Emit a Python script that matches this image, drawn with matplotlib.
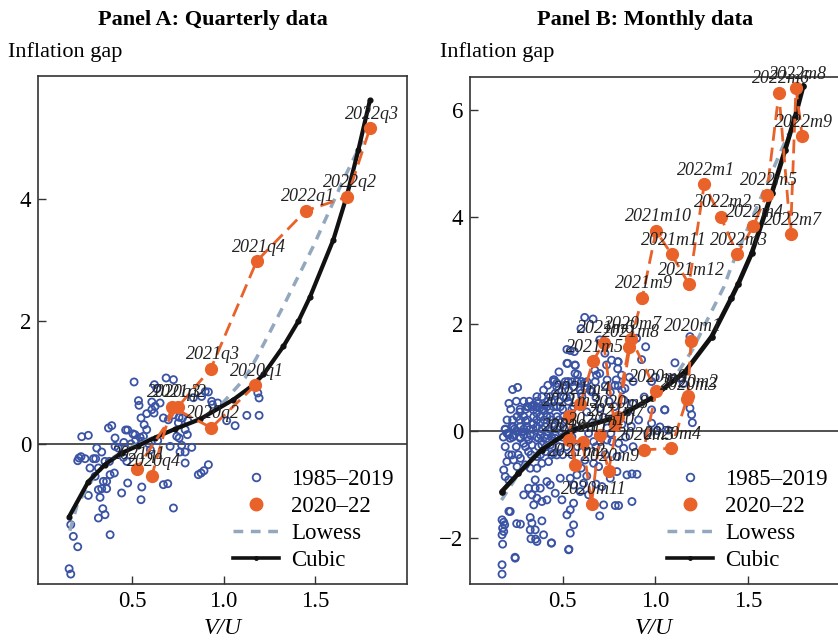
import matplotlib
matplotlib.use('Agg')
import matplotlib.pyplot as plt
from matplotlib.lines import Line2D

plt.rcParams['font.family'] = ['Liberation Serif', 'DejaVu Serif']

ORANGE = '#E8622A'
BLUE = '#3A53A4'
LOWESS = '#93A8BE'
BLACK = '#111111'

# ---------------- Panel A data (quarterly) ----------------
histA_x = [0.511, 0.622, 0.635, 0.686, 0.726, 0.535, 0.538, 0.608, 0.626, 0.653, 0.580, 0.549,
           0.371, 0.389, 0.465, 0.476, 0.225, 0.261, 0.407, 0.516, 0.544, 0.562, 0.580, 0.553,
           0.494, 0.307, 0.334, 0.407, 0.425, 0.744, 0.708, 0.210, 0.203, 0.221, 0.243, 0.289,
           0.301, 0.352, 0.376, 0.453, 0.471, 0.270, 0.316, 0.403, 0.380, 0.298, 0.343, 0.361,
           0.476, 0.553, 0.316, 0.334, 0.361, 0.443, 0.261, 0.325, 0.671, 0.695, 0.549, 0.726,
           0.340, 0.352, 0.316, 0.165, 0.179, 0.380, 0.203, 0.156, 0.165,
           0.917, 0.935, 0.968, 0.939, 1.017, 1.063, 1.127, 1.194, 1.187, 1.194, 0.757, 0.775,
           0.804, 0.790, 0.802, 0.757, 0.771, 0.826, 0.762, 0.790, 0.790, 0.862, 0.877, 0.893,
           0.917, 0.671, 0.698, 0.726, 0.753, 0.608, 0.620, 0.566, 0.835, 0.880, 0.900, 0.520,
           0.590, 0.505, 0.455, 0.600, 0.640]
histA_y = [1.007, 0.963, 0.898, 1.072, 1.045, 0.702, 0.626, 0.680, 0.610, 0.664, 0.490, 0.419,
           0.256, 0.294, 0.223, 0.223, 0.114, 0.136, 0.093, 0.147, 0.103, 0.120, 0.229, 0.038,
           -0.005, -0.071, -0.136, -0.044, -0.071, 0.120, -0.044, -0.234, -0.278, -0.212, -0.245, -0.245,
           -0.245, -0.289, -0.289, -0.223, -0.289, -0.397, -0.397, -0.479, -0.506, -0.533, -0.615, -0.615,
           -0.642, -0.707, -0.751, -0.735, -0.735, -0.805, -0.844, -0.876, -0.669, -0.653, -0.914, -1.050,
           -1.061, -1.159, -1.213, -1.322, -1.513, -1.486, -1.682, -2.041, -2.128,
           0.844, 0.691, 0.664, 0.637, 0.375, 0.294, 0.462, 0.462, 0.827, 0.746, 0.430, 0.419,
           0.375, 0.229, 0.147, 0.093, -0.027, -0.060, -0.136, -0.136, -0.315, -0.506, -0.479, -0.441,
           -0.343, 0.420, 0.390, 0.470, 0.340, 0.555, 0.500, 0.310, 0.750, 0.770, 0.850, 0.060,
           0.000, 0.160, 0.020, -0.100, 0.050]

qA_labels = ['2020q1', '2020q2', '2020q3', '2020q4', '2021q1', '2021q2', '2021q3',
             '2021q4', '2022q1', '2022q2', '2022q3']
qA_x = [1.172, 0.932, 0.717, 0.608, 0.526, 0.750, 0.930, 1.181, 1.449, 1.677, 1.800]
qA_y = [0.95, 0.26, 0.60, -0.52, -0.41, 0.60, 1.22, 2.98, 3.80, 4.03, 5.15]

lowA_x = [0.16, 0.20, 0.30, 0.40, 0.50, 0.60, 0.70, 0.80, 0.90, 1.00, 1.117, 1.18, 1.336, 1.49, 1.655, 1.76]
lowA_y = [-1.42, -1.00, -0.50, -0.22, -0.05, 0.08, 0.20, 0.32, 0.45, 0.68, 1.07, 1.40, 2.30, 3.22, 4.31, 4.95]

cubA_x = [0.156, 0.261, 0.352, 0.444, 0.535, 0.626, 0.735, 0.872, 1.054, 1.154, 1.218, 1.327,
          1.409, 1.473, 1.600, 1.673, 1.737, 1.800]
cubA_y = [-1.19, -0.62, -0.34, -0.15, -0.03, 0.10, 0.24, 0.40, 0.72, 0.94, 1.13, 1.59,
          2.00, 2.40, 3.33, 4.04, 4.80, 5.61]

# ---------------- Panel B data (monthly) ----------------
histB_x = [0.619, 0.664, 0.523, 0.541, 0.563, 0.523, 0.568, 0.230, 0.257, 0.210, 0.455, 0.469,
           0.451, 0.514, 0.550, 0.577, 0.631, 0.676,
           0.397, 0.478, 0.532, 0.595, 0.649,
           0.361, 0.388, 0.433, 0.505, 0.541, 0.604,
           0.308, 0.334, 0.361, 0.415, 0.451, 0.487, 0.559,
           0.254, 0.290, 0.344, 0.379, 0.415, 0.433, 0.469, 0.505,
           0.226, 0.272, 0.308, 0.361, 0.406, 0.451, 0.487,
           0.209, 0.235, 0.290, 0.325, 0.379, 0.415, 0.460,
           0.190, 0.200, 0.250, 0.280, 0.320, 0.340, 0.380, 0.300, 0.360, 0.400, 0.270, 0.320,
           0.420, 0.460, 0.470, 0.520, 0.560, 0.600, 0.620, 0.580, 0.480, 0.420, 0.234, 0.599, 0.700,
           0.899, 0.948, 0.926, 0.797, 0.797, 0.728, 0.674, 0.700, 0.789, 0.800, 0.820, 0.860, 0.880,
           0.730, 0.757, 0.980, 1.000, 1.090, 0.830, 0.880, 0.940, 0.980, 1.050, 0.910, 0.870, 0.980,
           0.960, 1.010, 0.740, 1.106, 1.187, 1.196, 1.200, 1.187, 1.133, 1.151, 1.052, 1.025, 1.070,
           0.217, 0.272, 0.316, 0.370, 0.415, 0.460, 0.290, 0.334, 0.388, 0.433, 0.226, 0.235, 0.199,
           0.272, 0.316, 0.361, 0.406, 0.451, 0.388, 0.424, 0.469, 0.361, 0.325, 0.254, 0.299, 0.182,
           0.190, 0.209,
           0.352, 0.415, 0.433, 0.316, 0.352, 0.379, 0.290, 0.334, 0.361, 0.388, 0.344, 0.415, 0.460,
           0.487, 0.541, 0.559, 0.577, 0.496, 0.541, 0.559, 0.595, 0.613,
           0.217, 0.523, 0.559, 0.541, 0.272, 0.325, 0.334, 0.325, 0.352, 0.388, 0.397, 0.329, 0.361,
           0.439, 0.532,
           0.173, 0.182, 0.187, 0.176, 0.182, 0.173, 0.176, 0.173, 0.173, 0.244,
           0.667, 0.703, 0.739, 0.766, 0.802, 0.829, 0.793, 0.667, 0.694, 0.793, 0.757, 0.847, 0.874,
           0.901, 0.712, 0.721, 0.784, 0.802, 0.874, 0.700,
           0.534, 0.440, 0.354, 0.252, 0.210, 0.243,
           0.315, 0.342, 0.369, 0.342, 0.376, 0.405,
           0.450, 0.468, 0.512, 0.530, 0.567, 0.527, 0.567, 0.602, 0.620, 0.656, 0.683, 0.737, 0.764,
           0.800, 0.818, 0.782, 0.836,
           0.25, 0.29, 0.36, 0.44, 0.48, 0.53,
           0.22, 0.27, 0.30, 0.39, 0.43, 0.50, 0.55,
           0.20, 0.23, 0.27, 0.31, 0.36, 0.40, 0.44, 0.48, 0.52,
           0.19, 0.24, 0.29, 0.34, 0.39, 0.43, 0.47, 0.51, 0.56,
           0.18, 0.23, 0.27, 0.31, 0.36, 0.40, 0.44, 0.50, 0.55,
           0.19, 0.25, 0.30, 0.37, 0.41, 0.48, 0.52, 0.58, 0.62,
           0.21, 0.26, 0.33, 0.38, 0.44, 0.50, 0.55,
           0.63, 0.66, 0.70, 0.72, 0.75, 0.68, 0.74, 0.78, 0.82, 0.85, 0.64, 0.68, 0.73, 0.76, 0.84,
           0.88, 0.62, 0.63, 0.68, 0.64, 0.60]
histB_y = [2.12, 2.09, 1.52, 1.50, 1.48, 1.26, 1.22, 0.77, 0.81, 0.51, 0.95, 0.89,
           0.916, 0.916, 0.916, 0.916, 0.916, 0.916,
           0.761, 0.761, 0.761, 0.761, 0.761,
           0.636, 0.636, 0.636, 0.636, 0.636, 0.636,
           0.449, 0.449, 0.449, 0.449, 0.449, 0.449, 0.449,
           0.262, 0.262, 0.262, 0.262, 0.262, 0.262, 0.262, 0.262,
           0.075, 0.075, 0.075, 0.075, 0.075, 0.075, 0.075,
           -0.080, -0.080, -0.080, -0.080, -0.080, -0.080, -0.080,
           0.02, -0.05, 0.00, -0.02, 0.02, 0.12, 0.15, 0.18, 0.33, 0.38, 0.35, 0.55,
           0.55, 0.70, 0.45, 0.62, 0.82, 0.70, 0.90, 1.05, 1.10, 0.85, 0.075, 1.91, 1.70,
           1.73, 1.57, 1.33, 1.29, 1.16, 1.45, 1.13, 1.07, 0.95, 0.84, 0.76, 1.00, 0.92,
           0.84, 0.72, 0.92, 1.00, 0.98, 0.57, 0.51, 0.63, 0.39, 0.39, 0.20, 0.08, 0.14,
           -0.04, 0.00, 0.95, 1.27, 0.42, 0.30, 0.15, 1.76, 0.98, 0.88, 0.39, 0.07, 0.01,
           -0.143, -0.143, -0.174, -0.143, -0.143, -0.143, -0.236, -0.267, -0.267, -0.267, -0.454, -0.548, -0.579,
           -0.517, -0.392, -0.485, -0.392, -0.423, -0.610, -0.579, -0.454, -0.703, -0.703, -0.672, -0.641, -0.735,
           -0.859, -0.921,
           -0.921, -0.953, -1.015, -1.077, -1.077, -1.077, -1.202, -1.202, -1.264, -1.326, -1.389, -1.295, -1.171,
           -0.890, -0.890, -1.015, -0.828, -1.295, -1.482, -1.358, -1.140, -0.984,
           -1.513, -1.576, -1.763, -1.918, -1.750, -1.626, -1.731, -1.856, -1.856, -1.688, -1.949, -2.024, -2.074,
           -2.105, -2.230,
           -1.669, -1.713, -1.763, -1.825, -1.887, -1.949, -2.124, -2.510, -2.685, -2.386,
           -0.205, -0.205, -0.174, -0.205, -0.236, -0.329, -0.485, -0.610, -0.672, -0.766, -0.890, -0.828, -0.809,
           -0.816, -1.046, -1.389, -1.401, -1.401, -1.326, -1.594,
           -2.22, -2.10, -2.03, -1.74, -1.51, -2.37,
           0.45, 0.48, 0.51, 0.39, 0.42, 0.48,
           0.95, 0.82, 0.85, 0.92, 1.23, 1.26, 1.07, 0.92, 0.79, 0.73, 1.04, 1.23, 1.32,
           1.29, 1.04, 0.85, 0.79,
           0.55, 0.55, 0.55, 0.55, 0.55, 0.55,
           0.40, 0.40, 0.40, 0.40, 0.40, 0.40, 0.40,
           0.20, 0.20, 0.20, 0.20, 0.20, 0.20, 0.20, 0.20, 0.20,
           0.03, 0.03, 0.03, 0.03, 0.03, 0.03, 0.03, 0.03, 0.03,
           -0.12, -0.12, -0.12, -0.12, -0.12, -0.12, -0.12, -0.12, -0.12,
           -0.30, -0.30, -0.30, -0.30, -0.30, -0.30, -0.30, -0.30, -0.30,
           -0.45, -0.45, -0.45, -0.45, -0.45, -0.45, -0.45,
           0.35, 0.15, 0.42, 0.25, 0.55, 0.62, 0.05, 0.45, 0.12, 0.35, -0.05, -0.30, -0.45, -0.05, -0.12,
           -0.30, -0.55, -0.85, -1.00, -1.20, -0.70]

mB_labels = ['2020m1', '2020m2', '2020m3', '2020m4', '2020m5', '2020m6', '2020m7', '2020m8',
             '2020m9', '2020m10', '2020m11', '2020m12', '2021m1', '2021m2', '2021m3', '2021m4',
             '2021m5', '2021m6', '2021m7', '2021m8', '2021m9', '2021m10', '2021m11', '2021m12',
             '2022m1', '2022m2', '2022m3', '2022m4', '2022m5', '2022m6', '2022m7', '2022m8', '2022m9']
mB_x = [1.193, 1.175, 1.170, 1.086, 0.937, 1.005, 0.870, 0.800, 0.748, 0.700, 0.656, 0.608,
        0.534, 0.568, 0.534, 0.595, 0.664, 0.721, 0.780, 0.858, 0.930, 1.004, 1.088, 1.182,
        1.264, 1.353, 1.443, 1.529, 1.601, 1.667, 1.730, 1.759, 1.793]
mB_y = [1.68, 0.64, 0.59, -0.33, -0.36, 0.74, 1.72, 0.25, -0.75, -0.08, -1.37, -0.21,
        -0.18, -0.65, 0.28, 0.50, 1.30, 1.645, 0.10, 1.57, 2.49, 3.74, 3.30, 2.74,
        4.61, 4.00, 3.30, 3.83, 4.42, 6.325, 3.68, 6.41, 5.51]

lowB_x = [0.17, 0.30, 0.40, 0.50, 0.60, 0.70, 0.80, 0.90, 1.00, 1.10, 1.142, 1.20, 1.28, 1.37, 1.41, 1.68, 1.72]
lowB_y = [-1.30, -0.60, -0.30, -0.08, 0.08, 0.20, 0.32, 0.46, 0.65, 0.98, 1.20, 1.51, 2.07, 2.69, 3.07, 5.25, 5.56]

cubB_x = [0.171, 0.261, 0.386, 0.548, 0.800, 0.980, 1.160, 1.304, 1.410, 1.448, 1.520, 1.628, 1.700, 1.754, 1.799]
cubB_y = [-1.14, -0.80, -0.36, 0.01, 0.26, 0.61, 1.10, 1.76, 2.48, 2.75, 3.32, 4.44, 5.25, 5.87, 6.46]

W, H = 838, 640
fig = plt.figure(figsize=(W / 100, H / 100), dpi=100)
axA = fig.add_axes([38 / W, 56 / H, 368.6 / W, 508 / H])
axB = fig.add_axes([470 / W, 56 / H, 370.6 / W, 507 / H])


def draw(ax, hx, hy, lx, ly, cx, cy, px, py, labels, xlim, ylim, yticks, cub_lw):
    ax.axhline(0, color='#222222', lw=1.1, zorder=1)
    ax.scatter(hx, hy, s=26, facecolors='none', edgecolors=BLUE, linewidths=1.3, zorder=2)
    ax.plot(lx, ly, color=LOWESS, lw=2.5, dashes=(2.8, 2.2), zorder=3)
    ax.plot(cx, cy, color=BLACK, lw=cub_lw, marker='o', markersize=cub_lw + 0.4, zorder=4,
            solid_capstyle='round')
    ax.plot(px, py, color=ORANGE, lw=2.0, dashes=(5, 2.5), marker='o', markersize=8.5,
            markeredgecolor=ORANGE, zorder=5)
    for lab, x, y in zip(labels, px, py):
        ax.annotate(lab, (x, y), xytext=(2, 14), textcoords='offset pixels', ha='center',
                    va='center', fontsize=13, style='italic', color='#222222', zorder=6)
    ax.set_xlim(*xlim)
    ax.set_ylim(*ylim)
    ax.set_xticks([0.5, 1.0, 1.5])
    ax.set_xticklabels(['0.5', '1.0', '1.5'])
    ax.set_yticks(yticks)
    ax.set_yticklabels([str(t).replace('-', '\u2212') for t in yticks])
    ax.tick_params(direction='in', length=6, width=1.0, labelsize=16.5, pad=5, color='#333333')
    for s in ax.spines.values():
        s.set_linewidth(1.2)
        s.set_color('#333333')
    handles = [
        Line2D([], [], ls='none', marker='o', markersize=5.5, markerfacecolor='none',
               markeredgecolor=BLUE, markeredgewidth=1.3),
        Line2D([], [], ls='none', marker='o', markersize=9, color=ORANGE),
        Line2D([], [], color=LOWESS, lw=2.5, dashes=(2.8, 2.2)),
        Line2D([], [], color=BLACK, lw=2.6, marker='o', markersize=2.5),
    ]
    ax.legend(handles, ['1985\u20132019', '2020\u201322', 'Lowess', 'Cubic'], loc='lower right',
              bbox_to_anchor=(1.0, 0.0), frameon=False, fontsize=16.5, handlelength=2.0,
              labelspacing=0.26, handletextpad=0.55, borderaxespad=0.15)


draw(axA, histA_x, histA_y, lowA_x, lowA_y, cubA_x, cubA_y, qA_x, qA_y, qA_labels,
     (-0.014, 2.0), (-2.29, 6.0), [0, 2, 4], 3.0)
draw(axB, histB_x, histB_y, lowB_x, lowB_y, cubB_x, cubB_y, mB_x, mB_y, mB_labels,
     (0.0, 2.0), (-2.87, 6.62), [-2, 0, 2, 4, 6], 3.4)

fig.text(213 / W, 1 - 20 / H, 'Panel A: Quarterly data', ha='center', va='center',
         fontsize=16, fontweight='bold')
fig.text(645 / W, 1 - 20 / H, 'Panel B: Monthly data', ha='center', va='center',
         fontsize=16, fontweight='bold')
fig.text(8 / W, 1 - 52 / H, 'Inflation gap', ha='left', va='center', fontsize=16)
fig.text(440 / W, 1 - 52 / H, 'Inflation gap', ha='left', va='center', fontsize=16)
fig.text(223 / W, 1 - 628 / H, 'V/U', ha='center', va='center', fontsize=17, style='italic')
fig.text(654 / W, 1 - 628 / H, 'V/U', ha='center', va='center', fontsize=17, style='italic')

fig.savefig('out.png', dpi=100)
